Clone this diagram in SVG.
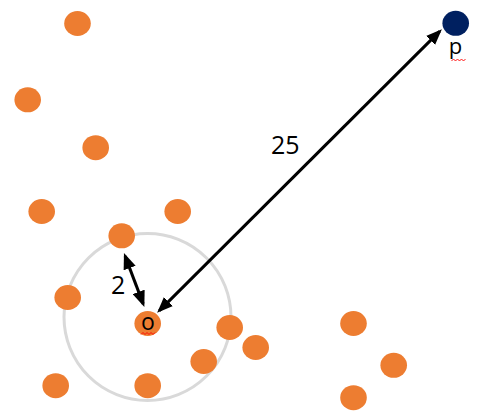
<svg xmlns="http://www.w3.org/2000/svg" width="483" height="419" viewBox="0 0 483 419">
<style>
.pt{fill:#ed7d31}
.q{fill:#002060}
.lbl{font-family:"Segoe UI","Open Sans","Liberation Sans",sans-serif;fill:#000}
.conn{stroke:#000;stroke-width:3;fill:none}
.sq{stroke:#ff0000;stroke-width:0.9;fill:none}
</style>
<defs>
<marker id="ah" markerUnits="userSpaceOnUse" markerWidth="16" markerHeight="13" viewBox="0 0 15 12" refX="12" refY="6" orient="auto-start-reverse">
<path d="M0,0 L15,6 L0,12 z" fill="#000"/>
</marker>
</defs>
<rect width="483" height="419" fill="#fff"/>
<circle id="radius" cx="147.5" cy="317" r="83.5" fill="none" stroke="#d9d9d9" stroke-width="3"/>
<g id="n1"><ellipse class="pt" cx="77.5" cy="23.5" rx="13.3" ry="12.5"/></g>
<g id="n2"><ellipse class="pt" cx="27.7" cy="99.8" rx="13.3" ry="12.5"/></g>
<g id="n3"><ellipse class="pt" cx="95.7" cy="147.7" rx="13.3" ry="12.5"/></g>
<g id="n4"><ellipse class="pt" cx="41.7" cy="211.5" rx="13.3" ry="12.5"/></g>
<g id="n5"><ellipse class="pt" cx="177.7" cy="211.5" rx="13.3" ry="12.5"/></g>
<g id="n6"><ellipse class="pt" cx="121.7" cy="235.8" rx="13.3" ry="12.5"/></g>
<g id="n7"><ellipse class="pt" cx="67.7" cy="297.5" rx="13.3" ry="12.5"/></g>
<g id="n8"><ellipse class="pt" cx="229.7" cy="327.5" rx="13.3" ry="12.5"/></g>
<g id="n9"><ellipse class="pt" cx="255.7" cy="347.5" rx="13.3" ry="12.5"/></g>
<g id="n10"><ellipse class="pt" cx="203.7" cy="361.5" rx="13.3" ry="12.5"/></g>
<g id="n11"><ellipse class="pt" cx="55.7" cy="385.7" rx="13.3" ry="12.5"/></g>
<g id="n12"><ellipse class="pt" cx="147.7" cy="385.7" rx="13.3" ry="12.5"/></g>
<g id="n13"><ellipse class="pt" cx="353.5" cy="323.5" rx="13.3" ry="12.5"/></g>
<g id="n14"><ellipse class="pt" cx="393.7" cy="365.3" rx="13.3" ry="12.5"/></g>
<g id="n15"><ellipse class="pt" cx="353.5" cy="397.7" rx="13.3" ry="12.5"/></g>
<g id="o">
<ellipse class="pt" cx="147.7" cy="323.5" rx="13.3" ry="12.5"/>
<text class="lbl" x="148" y="330" font-size="23" text-anchor="middle">o</text>
<path class="sq" d="M141,334.5 l2,-2 l2,2 l2,-2 l2,2 l2,-2 l2,2 l2,-2"/>
</g>
<g id="p">
<ellipse class="q" cx="455.7" cy="23.3" rx="13.3" ry="12.5"/>
<text class="lbl" x="455.5" y="53.5" font-size="22" text-anchor="middle">p</text>
<path class="sq" d="M451.5,61 l2,-2 l2,2 l2,-2 l2,2 l2,-2 l2,2 l2,-2"/>
</g>
<g id="connectors">
<line class="conn" x1="439.6" y1="31.4" x2="159.4" y2="310.6" marker-start="url(#ah)" marker-end="url(#ah)"/>
<line class="conn" x1="125.1" y1="256.1" x2="143.2" y2="303.9" marker-start="url(#ah)" marker-end="url(#ah)"/>
</g>
<text class="lbl" x="271" y="154" font-size="25">25</text>
<text class="lbl" x="111" y="294" font-size="25">2</text>
</svg>
